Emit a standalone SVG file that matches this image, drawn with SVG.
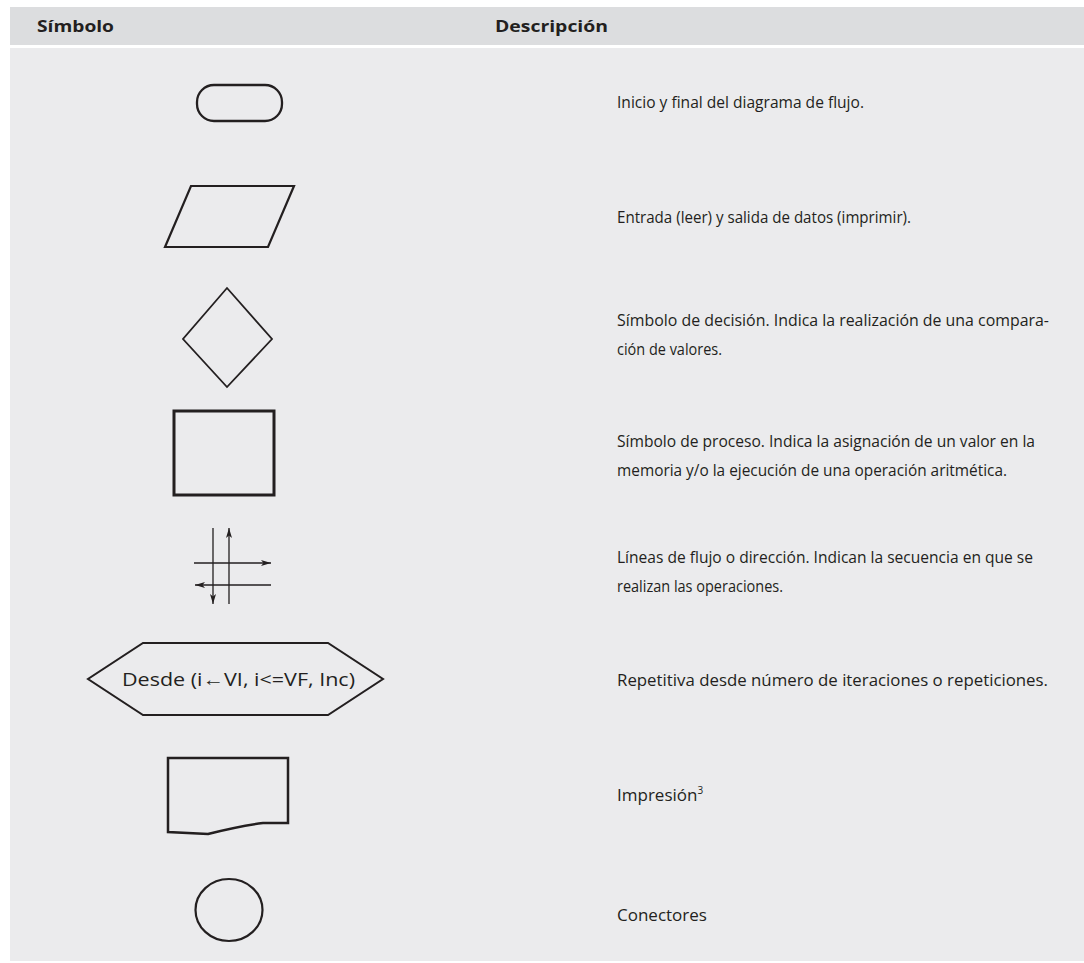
<svg xmlns="http://www.w3.org/2000/svg" width="1084" height="963" viewBox="0 0 1084 963">
<defs>
<style>
.hdr{fill:#dcdddf}
.body{fill:#ebebed}
.sh{fill:none;stroke:#231f20;stroke-linejoin:miter}
.th{font-family:"Open Sans","Liberation Sans",sans-serif;font-size:16.5px;font-weight:bold;fill:#231f20}
.t{font-family:"Open Sans","Liberation Sans",sans-serif;font-size:17px;fill:#231f20}
.tl{font-size:16.5px}
.hx{font-family:"Open Sans","Liberation Sans",sans-serif;font-size:19px;fill:#231f20}
.fl{stroke:#231f20;stroke-width:1.3;fill:none}
</style>
<marker id="ah" viewBox="0 0 10 6" refX="10" refY="3" markerWidth="10" markerHeight="6" markerUnits="userSpaceOnUse" orient="auto">
<path d="M0,0 L10,3 L0,6 L2.5,3 Z" fill="#231f20"/>
</marker>
</defs>
<rect class="hdr" x="10" y="7" width="1074" height="38"/>
<rect class="body" x="10" y="48" width="1074" height="913"/>
<text class="th" x="37" y="32" textLength="77" lengthAdjust="spacingAndGlyphs">Símbolo</text>
<text class="th" x="495" y="32" textLength="113" lengthAdjust="spacingAndGlyphs">Descripción</text>

<g id="terminal">
<rect class="sh" x="197" y="85" width="85" height="36" rx="17" stroke-width="2.3"/>
<text class="t" x="617" y="108" textLength="247" lengthAdjust="spacingAndGlyphs">Inicio y final del diagrama de flujo.</text>
</g>
<g id="io">
<polygon class="sh" points="191,186 294,186 268,247 165,247" stroke-width="2.2"/>
<text class="t" x="617" y="223" textLength="294" lengthAdjust="spacingAndGlyphs">Entrada (leer) y salida de datos (imprimir).</text>
</g>
<g id="decision">
<polygon class="sh" points="227,288 272,339 227,387 183,339" stroke-width="1.8"/>
<text class="t tl" x="617" y="326" textLength="432" lengthAdjust="spacingAndGlyphs">Símbolo de decisión. Indica la realización de una compara-</text>
<text class="t" x="617" y="355" textLength="105" lengthAdjust="spacingAndGlyphs">ción de valores.</text>
</g>
<g id="process">
<rect class="sh" x="174" y="411" width="100" height="84" stroke-width="3"/>
<text class="t tl" x="617" y="447" textLength="418" lengthAdjust="spacingAndGlyphs">Símbolo de proceso. Indica la asignación de un valor en la</text>
<text class="t" x="617" y="476" textLength="390" lengthAdjust="spacingAndGlyphs">memoria y/o la ejecución de una operación aritmética.</text>
</g>
<g id="flowlines">
<line class="fl" x1="213" y1="528" x2="213" y2="604" marker-end="url(#ah)"/>
<line class="fl" x1="229" y1="604" x2="229" y2="528" marker-end="url(#ah)"/>
<line class="fl" x1="194" y1="563" x2="271" y2="563" marker-end="url(#ah)"/>
<line class="fl" x1="271" y1="585" x2="195" y2="585" marker-end="url(#ah)"/>
<text class="t" x="617" y="563" textLength="416" lengthAdjust="spacingAndGlyphs">Líneas de flujo o dirección. Indican la secuencia en que se</text>
<text class="t" x="617" y="592" textLength="166" lengthAdjust="spacingAndGlyphs">realizan las operaciones.</text>
</g>
<g id="loop">
<polygon class="sh" points="143,643 328,643 383,679 328,715 143,715 88,679" stroke-width="2"/>
<text class="hx" x="122" y="686" textLength="233" lengthAdjust="spacingAndGlyphs">Desde (i←VI, i&lt;=VF, Inc)</text>
<text class="t" x="617" y="686" textLength="431" lengthAdjust="spacingAndGlyphs">Repetitiva desde número de iteraciones o repeticiones.</text>
</g>
<g id="document">
<path class="sh" d="M168,758 L288,758 L288,823 L263,823 Q240,826 208,834 L168,832 Z" stroke-width="2.5"/>
<text class="t" x="617" y="801">Impresión<tspan font-size="10" dy="-7">3</tspan></text>
</g>
<g id="connector">
<ellipse class="sh" cx="229" cy="910" rx="33.5" ry="31" stroke-width="2.2"/>
<text class="t" x="617" y="921">Conectores</text>
</g>
<g id="connectors"></g>
</svg>
